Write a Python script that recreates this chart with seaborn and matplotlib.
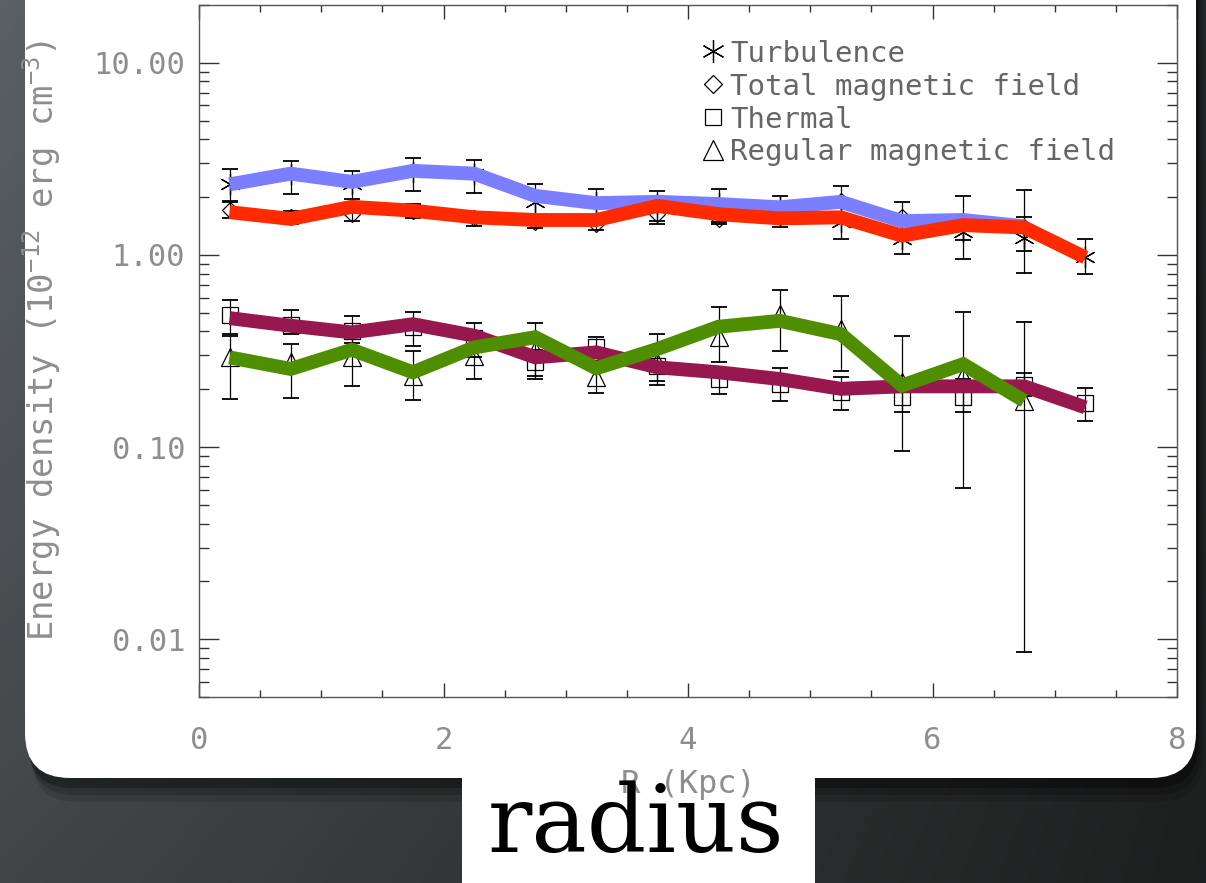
#!/usr/bin/env python3
"""Energy density vs. galactocentric radius, shown on a slide."""

import matplotlib

matplotlib.use("Agg")
import matplotlib.pyplot as plt
import numpy as np
import seaborn as sns
from matplotlib.colors import LinearSegmentedColormap
from matplotlib.lines import Line2D
from matplotlib.patches import FancyBboxPatch, Rectangle
from matplotlib.ticker import (FixedLocator, FormatStrFormatter, LogLocator,
                               MultipleLocator, NullFormatter)
from matplotlib.transforms import IdentityTransform

# ---- data ----------------------------------------------------------------
radius_kpc = [0.25, 0.75, 1.25, 1.75, 2.25, 2.75, 3.25, 3.75,
              4.25, 4.75, 5.25, 5.75, 6.25, 6.75, 7.25]

turbulence = [2.35, 2.65, 2.33, 2.69, 2.65, 1.88, 1.88, 1.84,
              1.87, 1.77, 1.48, 1.21, 1.31, 1.23, 0.97]
turbulence_lo = [1.89, 2.07, 1.95, 2.14, 2.09, 1.50, 1.55, 1.45,
                 1.48, 1.39, 1.21, 1.01, 0.95, 0.81, 0.80]
turbulence_hi = [2.80, 3.08, 2.75, 3.19, 3.11, 2.35, 2.20, 2.15,
                 2.20, 2.03, 1.80, 1.45, 1.60, 1.57, 1.21]

total_field = [1.72, 1.57, 1.63, 1.70, 1.55, 1.48, 1.45, 1.63,
               1.53, 1.57, 1.91, 1.57, 1.45, 1.40]
total_field_lo = [1.55, 1.45, 1.50, 1.55, 1.42, 1.38, 1.35, 1.50,
                  1.45, 1.47, 1.60, 1.30, 1.20, 1.05]
total_field_hi = [1.90, 1.70, 1.78, 1.85, 1.68, 1.60, 1.56, 1.77,
                  1.62, 1.68, 2.29, 1.89, 2.03, 2.18]

thermal = [0.488, 0.432, 0.400, 0.420, 0.368, 0.277, 0.330, 0.265,
           0.226, 0.213, 0.193, 0.182, 0.182, 0.211, 0.169]
thermal_lo = [0.390, 0.388, 0.350, 0.337, 0.296, 0.235, 0.290, 0.210,
              0.188, 0.173, 0.155, 0.152, 0.152, 0.185, 0.136]
thermal_hi = [0.583, 0.515, 0.479, 0.502, 0.442, 0.320, 0.375, 0.320,
              0.257, 0.257, 0.231, 0.210, 0.226, 0.243, 0.203]

regular_field = [0.293, 0.276, 0.293, 0.235, 0.299, 0.320, 0.231,
                 0.276, 0.373, 0.492, 0.411, 0.217, 0.235, 0.174]
regular_field_lo = [0.178, 0.180, 0.209, 0.176, 0.226, 0.225, 0.191,
                    0.220, 0.278, 0.317, 0.250, 0.095, 0.061, 0.0086]
regular_field_hi = [0.380, 0.344, 0.380, 0.317, 0.370, 0.440, 0.280,
                    0.390, 0.533, 0.656, 0.613, 0.380, 0.506, 0.449]

# coloured overlay lines drawn by hand on the slide
blue_line = [2.33, 2.65, 2.40, 2.74, 2.65, 2.03, 1.86, 1.89,
             1.84, 1.77, 1.89, 1.50, 1.52, 1.41]
red_line = [1.67, 1.54, 1.78, 1.70, 1.57, 1.52, 1.52, 1.80,
            1.63, 1.55, 1.57, 1.26, 1.43, 1.39, 0.97]
maroon_line = [0.469, 0.428, 0.395, 0.436, 0.380, 0.293, 0.311, 0.260,
               0.245, 0.226, 0.201, 0.207, 0.207, 0.207, 0.161]
green_line = [0.293, 0.255, 0.321, 0.245, 0.330, 0.373, 0.257,
              0.324, 0.423, 0.454, 0.387, 0.209, 0.270, 0.174]

series_labels = ["Turbulence", "Total magnetic field", "Thermal",
                 "Regular magnetic field"]
y_tick_values = [0.01, 0.1, 1.0, 10.0]

# ---- style ---------------------------------------------------------------
W, H = 1206, 883
GREY_TEXT = "#8e8e8e"
ASTERISK = (6, 2, 0)

sns.set_theme(style="ticks")
plt.rcParams.update({
    "font.family": ["DejaVu Sans Mono", "DejaVu Sans"],
    "mathtext.fontset": "custom",
    "mathtext.rm": "DejaVu Sans Mono",
    "mathtext.it": "DejaVu Sans Mono:italic",
    "mathtext.bf": "DejaVu Sans Mono:bold",
    "mathtext.default": "rm",
})

fig = plt.figure(figsize=(W / 100, H / 100), dpi=100)

# dark slide background
bg = fig.add_axes([0, 0, 1, 1], zorder=-3)
bg.axis("off")
cols = np.linspace(0, 1, 240)
rows = np.linspace(0, 1, 120)
shade = (1 - 0.75 * cols)[None, :] * (1 - 0.35 * rows)[:, None]
bg_cmap = LinearSegmentedColormap.from_list("slide_bg", ["#121212", "#5a6163"])
bg.imshow(shade, cmap=bg_cmap, vmin=0, vmax=1, aspect="auto",
          extent=[0, 1, 0, 1], interpolation="bilinear")
bg.set_xlim(0, 1)
bg.set_ylim(0, 1)

# white rounded card + soft shadow
for off, alpha in [(24, 0.12), (17, 0.18), (10, 0.28)]:
    fig.add_artist(FancyBboxPatch(
        (25 + off * 0.3, 105 - off), 1171, 900,
        boxstyle="round,pad=0,rounding_size=45", fc="black", ec="none",
        alpha=alpha, transform=IdentityTransform(), zorder=-2))
fig.add_artist(FancyBboxPatch(
    (25, 105), 1171, 900, boxstyle="round,pad=0,rounding_size=45",
    fc="white", ec="none", transform=IdentityTransform(), zorder=-1))
fig.add_artist(Rectangle((462, 0), 353, 106, fc="white", ec="none",
                         transform=IdentityTransform(), zorder=-0.5))

# ---- main axes -----------------------------------------------------------
ax = fig.add_axes([199 / W, 1 - 697 / H, 978 / W, 692 / H])
ax.set_facecolor("white")

marker_sets = [
    (turbulence, turbulence_lo, turbulence_hi, ASTERISK, 15),
    (total_field, total_field_lo, total_field_hi, "D", 8.5),
    (thermal, thermal_lo, thermal_hi, "s", 11),
    (regular_field, regular_field_lo, regular_field_hi, "^", 13),
]
for vals, lo, hi, mk, ms in marker_sets:
    x = radius_kpc[:len(vals)]
    v = np.asarray(vals)
    yerr = [v - np.asarray(lo), np.asarray(hi) - v]
    ax.errorbar(x, v, yerr=yerr, fmt="none", ecolor="black",
                elinewidth=0.9, capsize=5.5, capthick=1.3, zorder=2)
    ax.plot(x, v, ls="none", marker=mk, ms=ms, mfc="none", mec="black",
            mew=0.9, zorder=2.5)

overlay = [
    (maroon_line, "#97174f"),
    (green_line, "#4e8e00"),
    (blue_line, "#7b7eff"),
    (red_line, "#ff2a00"),
]
for i, (vals, colour) in enumerate(overlay):
    sns.lineplot(x=radius_kpc[:len(vals)], y=vals, ax=ax, color=colour,
                 linewidth=10, sort=False, solid_joinstyle="miter",
                 solid_capstyle="butt", zorder=4 + i)

ax.set_yscale("log")
ax.set_xlim(0, 8)
ax.set_ylim(0.005, 20)
ax.yaxis.set_major_locator(FixedLocator(y_tick_values))
ax.yaxis.set_major_formatter(FormatStrFormatter("%.2f"))
ax.yaxis.set_minor_locator(LogLocator(base=10, subs=np.arange(2, 10)))
ax.yaxis.set_minor_formatter(NullFormatter())
ax.xaxis.set_major_locator(MultipleLocator(2))
ax.xaxis.set_minor_locator(MultipleLocator(0.5))

ax.tick_params(which="both", direction="in", top=True, right=True,
               color="#333333", width=1)
ax.tick_params(axis="y", which="major", length=14.5, pad=10, labelsize=22,
               labelcolor=GREY_TEXT)
ax.tick_params(axis="y", which="minor", length=7)
ax.tick_params(axis="x", which="major", length=10, pad=21, labelsize=22,
               labelcolor=GREY_TEXT)
ax.tick_params(axis="x", which="minor", length=5)
for sp in ax.spines.values():
    sp.set_color("#555555")
    sp.set_linewidth(1)

ax.set_ylabel("Energy density (10$^{-12}$ erg cm$^{-3}$)", fontsize=24.5,
              color=GREY_TEXT)
ax.yaxis.set_label_coords((42 - 199) / 978, (697 - 340) / 692)
ax.yaxis.label.set_va("center")
ax.set_xlabel("R (Kpc)", fontsize=23, color=GREY_TEXT)
ax.xaxis.set_label_coords(0.5, -(785 - 697) / 692)
ax.xaxis.label.set_va("center")

handles = [Line2D([], [], ls="none", marker=mk, ms=ms * 1.1, mfc="none",
                  mec="black", mew=0.9)
           for _, _, _, mk, ms in marker_sets]
leg = ax.legend(handles, series_labels, loc="upper left",
                bbox_to_anchor=(0.515, 0.95), frameon=False, fontsize=21,
                handlelength=0.7, handletextpad=0.25, labelspacing=0.17,
                borderaxespad=0, borderpad=0)
for txt in leg.get_texts():
    txt.set_color("#666666")

fig.text(636 / W, 1 - 852 / H, "radius", family="DejaVu Serif",
         fontsize=67, ha="center", va="baseline", color="black", zorder=5)

fig.savefig("out.png", dpi=100)
